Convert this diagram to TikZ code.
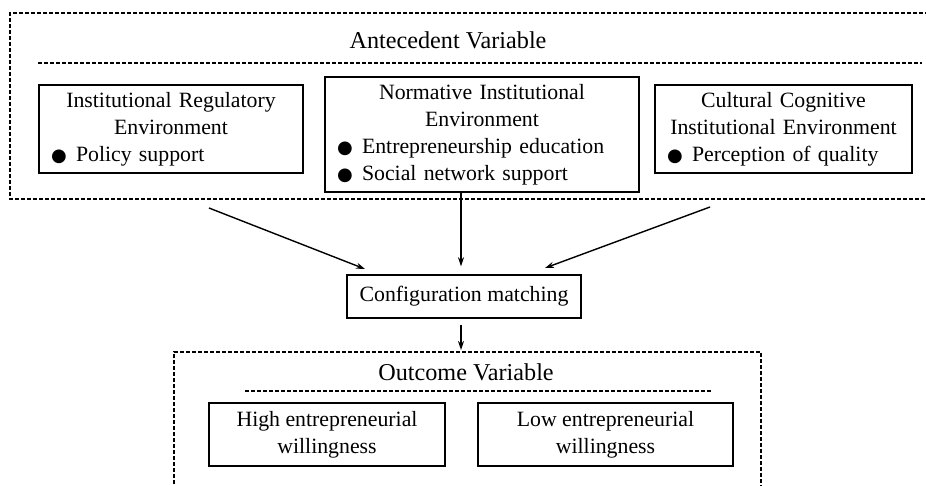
\documentclass[tikz,border=0pt]{standalone}
\usepackage{fontspec}
\setmainfont{Liberation Serif}
\newfontfamily\dotfont{DejaVu Sans}
\usetikzlibrary{arrows.meta}

\newcommand{\itm}{\makebox[25pt][l]{\dotfont\fontsize{18}{18}\selectfont ●}}

\tikzset{
  dashline/.style={line width=1.3pt, dash pattern=on 4pt off 2pt},
  varbox/.style={draw, line width=1.4pt, inner xsep=12pt, inner ysep=0pt,
    font=\fontsize{21.8}{27}\selectfont},
  outbox/.style={varbox, inner xsep=0pt, align=center},
  ttl/.style={font=\fontsize{24.2}{28}\selectfont, inner sep=0pt},
  arr/.style={line width=1.4pt, -{Stealth[length=9pt,width=6pt]}},
}

\begin{document}
\begin{tikzpicture}[x=1pt,y=-1pt]
  \useasboundingbox (0,0) rectangle (926,485);

  % antecedent variables
  \draw[dashline] (935,13) -- (10,13) -- (10,199) -- (935,199);
  \node[ttl] (ante) at (448,40) {Antecedent Variable};
  \draw[dashline] (38,63) -- (922,63);

  \node[varbox, text width=240pt, minimum height=88pt] (reg) at (171,129)
    {\centering Institutional Regulatory\\ Environment\par
     \raggedright\itm Policy support\par};
  \node[varbox, text width=290pt, minimum height=115pt] (norm) at (482,134.5)
    {\centering Normative Institutional\\ Environment\par
     \raggedright\itm Entrepreneurship education\\
     \itm Social network support\par};
  \node[varbox, text width=233pt, minimum height=88pt] (cult) at (783.5,129)
    {\centering Cultural Cognitive\\ Institutional Environment\par
     \raggedright\itm Perception of quality\par};

  \node[outbox, minimum width=234pt, minimum height=43pt] (cfg) at (464,296.5)
    {Configuration matching};

  % outcome variables
  \draw[dashline] (174,490) -- (174,352) -- (761,352) -- (761,490);
  \node[ttl] (outc) at (466,372) {Outcome Variable};
  \draw[dashline] (245,391) -- (711,391);

  \node[outbox, minimum width=236pt, minimum height=63pt] (high) at (327,434.5)
    {High entrepreneurial\\ willingness};
  \node[outbox, minimum width=255pt, minimum height=63pt] (low) at (605.5,434.5)
    {Low entrepreneurial\\ willingness};

  \coordinate (a1) at (209,208);
  \coordinate (b1) at (365,269);
  \coordinate (a2) at (461,200);
  \coordinate (a3) at (710,207);
  \coordinate (b3) at (545,268);
  \coordinate (c2) at (461,350);

  \draw[arr] (a1) -- (b1);
  \draw[arr, shorten >=8pt] (a2 |- norm.south) -- (a2 |- cfg.north);
  \draw[arr] (a3) -- (b3);
  \draw[arr, shorten <=6pt] (a2 |- cfg.south) -- (c2);
\end{tikzpicture}
\end{document}
